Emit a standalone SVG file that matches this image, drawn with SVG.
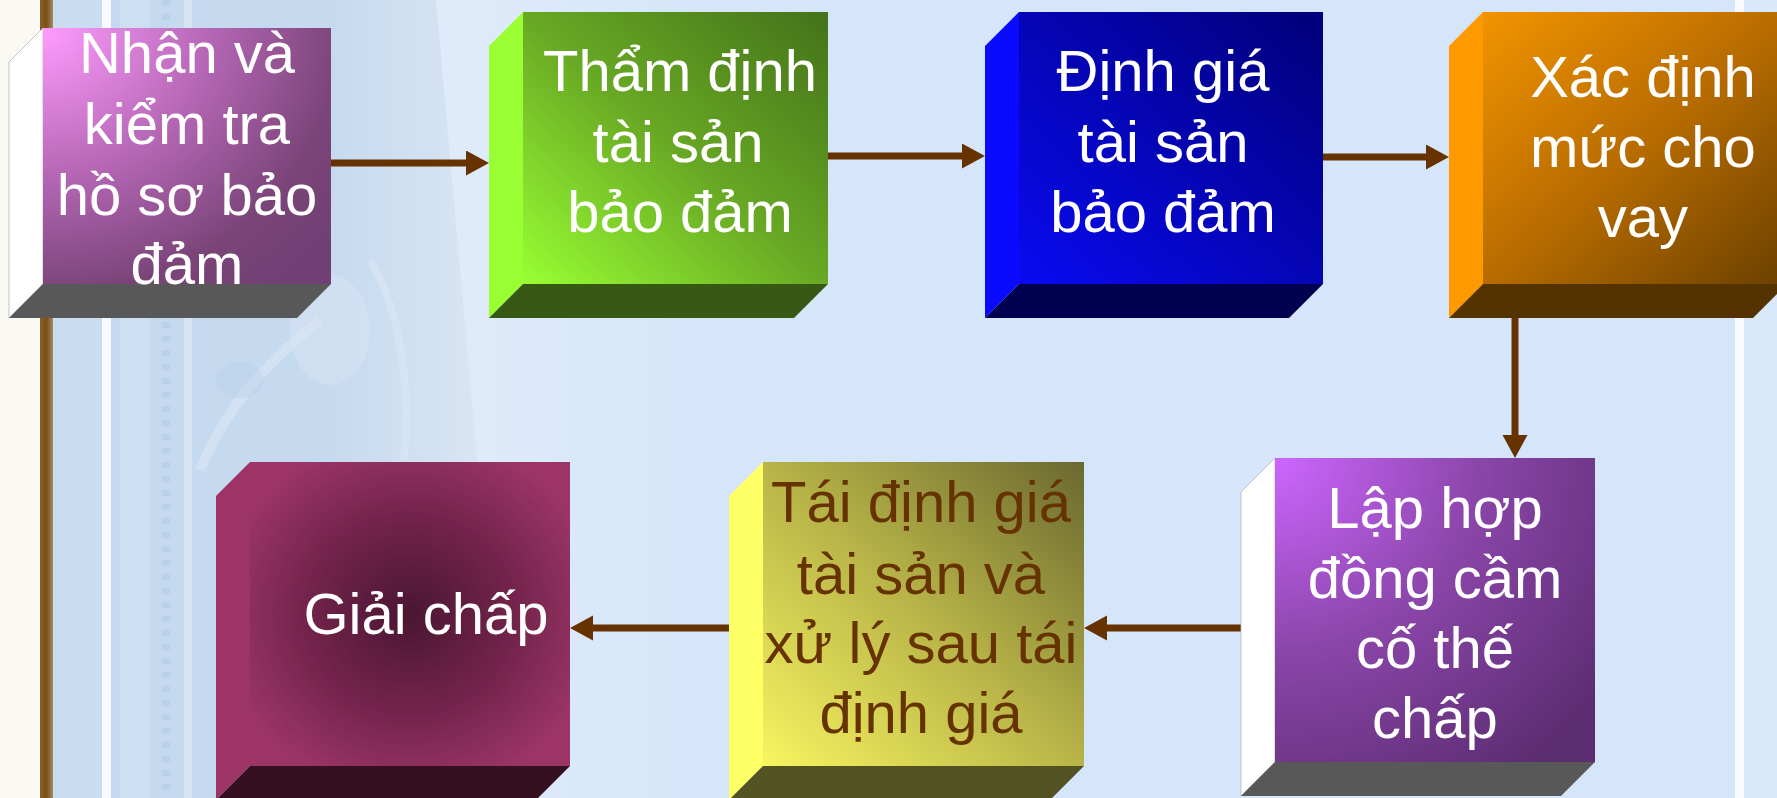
<svg xmlns="http://www.w3.org/2000/svg" width="1777" height="798" viewBox="0 0 1777 798">
<style>
.t{font-family:"Liberation Sans",Arial,sans-serif;font-size:58px;fill:#ffffff;text-anchor:middle}
.tb{fill:#663300}
.c{stroke:#663300;stroke-width:7;fill:none}
.edge{stroke:#b8b8b8;stroke-width:0.8}
</style>
<defs>
<linearGradient id="bgL" x1="0" y1="0" x2="1" y2="0">
<stop offset="0" stop-color="#eef3fa"/><stop offset="1" stop-color="#d5e6fa"/>
</linearGradient>
<linearGradient id="arch" x1="0" y1="0" x2="1" y2="0">
<stop offset="0" stop-color="#c4d9ef"/><stop offset="0.6" stop-color="#c6daef"/><stop offset="1" stop-color="#d8e5f4"/>
</linearGradient>
<linearGradient id="brown" x1="0" y1="0" x2="1" y2="0">
<stop offset="0" stop-color="#8a5e22"/><stop offset="0.5" stop-color="#7a5018"/><stop offset="1" stop-color="#a88a60"/>
</linearGradient>
<radialGradient id="g1" cx="0" cy="0" r="1.3" gradientUnits="objectBoundingBox">
<stop offset="0" stop-color="#ff9cff"/><stop offset="0.45" stop-color="#b466b4"/><stop offset="0.8" stop-color="#7a4478"/><stop offset="1" stop-color="#704074"/>
</radialGradient>
<linearGradient id="g2" x1="0" y1="1" x2="1" y2="0">
<stop offset="0" stop-color="#99ff33"/><stop offset="0.5" stop-color="#68a824"/><stop offset="1" stop-color="#44721a"/>
</linearGradient>
<linearGradient id="g3" x1="0" y1="1" x2="1" y2="0">
<stop offset="0" stop-color="#0a0af2"/><stop offset="1" stop-color="#000078"/>
</linearGradient>
<linearGradient id="g4" x1="0" y1="0" x2="1" y2="1">
<stop offset="0" stop-color="#f29400"/><stop offset="0.5" stop-color="#b86c00"/><stop offset="1" stop-color="#6a4000"/>
</linearGradient>
<radialGradient id="g5" cx="0" cy="0" r="1.3" gradientUnits="objectBoundingBox">
<stop offset="0" stop-color="#cc66ff"/><stop offset="0.5" stop-color="#8a45a8"/><stop offset="1" stop-color="#5a2c70"/>
</radialGradient>
<linearGradient id="g6" x1="0" y1="1" x2="1" y2="0">
<stop offset="0" stop-color="#f8f460"/><stop offset="0.5" stop-color="#b8b448"/><stop offset="1" stop-color="#6a6830"/>
</linearGradient>
<radialGradient id="g7" cx="0.5" cy="0.5" r="0.6">
<stop offset="0" stop-color="#4a1632"/><stop offset="0.55" stop-color="#74244c"/><stop offset="1" stop-color="#9c3566"/>
</radialGradient>
<marker id="ah" markerUnits="userSpaceOnUse" markerWidth="24" markerHeight="26" refX="2" refY="12.5" orient="auto">
<path d="M0,0 L23,12.5 L0,25 z" fill="#663300"/>
</marker>
</defs>

<g id="background">
<rect x="0" y="0" width="1777" height="798" fill="#d5e6fa"/>
<rect x="0" y="0" width="720" height="798" fill="url(#bgL)"/>
<rect x="0" y="0" width="40" height="798" fill="#fbf9f3"/>
<rect x="40" y="0" width="13" height="798" fill="url(#brown)"/>
<rect x="53" y="0" width="49" height="798" fill="#c9dcf0"/>
<rect x="102" y="0" width="9" height="798" fill="#f6f9fd"/>
<polygon points="111,0 436,0 478,470 478,798 111,798" fill="url(#arch)"/>
<rect x="120" y="0" width="30" height="798" fill="#d4e3f3" opacity="0.6"/>
<line x1="166" y1="0" x2="166" y2="798" stroke="#b8cee8" stroke-width="8" stroke-dasharray="6,8" opacity="0.7"/>
<rect x="184" y="0" width="8" height="798" fill="#e2ebf6" opacity="0.6"/>
<path d="M200,470 C230,400 270,360 320,320" stroke="#dce7f4" stroke-width="10" fill="none" opacity="0.6"/>
<ellipse cx="240" cy="380" rx="24" ry="18" fill="#bcd2ea" opacity="0.5"/>
<ellipse cx="330" cy="330" rx="40" ry="55" fill="#d9e5f3" opacity="0.45"/>
<path d="M370,260 C400,310 410,380 404,460" stroke="#dde8f5" stroke-width="8" fill="none" opacity="0.5"/>
<rect x="1735" y="0" width="9" height="798" fill="#f8fbff"/>
<rect x="1744" y="0" width="33" height="798" fill="#d9e8fa"/>
</g>

<g id="connectors">
<line class="c" x1="331" y1="163" x2="468" y2="163" marker-end="url(#ah)"/>
<line class="c" x1="828" y1="156" x2="964" y2="156" marker-end="url(#ah)"/>
<line class="c" x1="1323" y1="157" x2="1428" y2="157" marker-end="url(#ah)"/>
<line class="c" x1="1515" y1="318" x2="1515" y2="437" marker-end="url(#ah)"/>
<line class="c" x1="1241" y1="628" x2="1105" y2="628" marker-end="url(#ah)"/>
<line class="c" x1="729" y1="628" x2="591" y2="628" marker-end="url(#ah)"/>
</g>

<g id="node-nhan">
<polygon points="43,28 9,62 9,318 43,284" fill="#ffffff" class="edge"/>
<polygon points="43,284 331,284 297,318 9,318" fill="#585858"/>
<rect x="43" y="28" width="288" height="256" fill="url(#g1)"/>
<text class="t" x="187" y="73">Nhận và</text>
<text class="t" x="187" y="144">kiểm tra</text>
<text class="t" x="187" y="215">hồ sơ bảo</text>
<text class="t" x="187" y="284">đảm</text>
</g>

<g id="node-thamdinh">
<polygon points="523,12 489,46 489,318 523,284" fill="#99ff33"/>
<polygon points="523,284 828,284 794,318 489,318" fill="#365a14"/>
<rect x="523" y="12" width="305" height="272" fill="url(#g2)"/>
<text class="t" x="680" y="91">Thẩm định</text>
<text class="t" x="678" y="162">tài sản</text>
<text class="t" x="680" y="232">bảo đảm</text>
</g>

<g id="node-dinhgia">
<polygon points="1019,12 985,46 985,318 1019,284" fill="#0a0aff"/>
<polygon points="1019,284 1323,284 1289,318 985,318" fill="#000050"/>
<rect x="1019" y="12" width="304" height="272" fill="url(#g3)"/>
<text class="t" x="1163" y="91">Định giá</text>
<text class="t" x="1163" y="162">tài sản</text>
<text class="t" x="1163" y="232">bảo đảm</text>
</g>

<g id="node-xacdinh">
<polygon points="1483,12 1449,46 1449,318 1483,284" fill="#ff9900"/>
<polygon points="1483,284 1787,284 1753,318 1449,318" fill="#553300"/>
<rect x="1483" y="12" width="304" height="272" fill="url(#g4)"/>
<text class="t" x="1643" y="97">Xác định</text>
<text class="t" x="1643" y="167">mức cho</text>
<text class="t" x="1643" y="237">vay</text>
</g>

<g id="node-laphopdong">
<polygon points="1275,458 1241,492 1241,796 1275,762" fill="#ffffff" class="edge"/>
<polygon points="1275,762 1595,762 1561,796 1241,796" fill="#585858"/>
<rect x="1275" y="458" width="320" height="304" fill="url(#g5)"/>
<text class="t" x="1435" y="528">Lập hợp</text>
<text class="t" x="1435" y="598">đồng cầm</text>
<text class="t" x="1435" y="668">cố thế</text>
<text class="t" x="1435" y="738">chấp</text>
</g>

<g id="node-taidinhgia">
<polygon points="763,462 729,496 729,800 763,766" fill="#ffff66"/>
<polygon points="763,766 1084,766 1050,800 729,800" fill="#525222"/>
<rect x="763" y="462" width="321" height="304" fill="url(#g6)"/>
<text class="t tb" x="921" y="522">Tái định giá</text>
<text class="t tb" x="921" y="594">tài sản và</text>
<text class="t tb" x="921" y="663">xử lý sau tái</text>
<text class="t tb" x="921" y="733">định giá</text>
</g>

<g id="node-giaichap">
<polygon points="250,462 216,496 216,800 250,766" fill="#9c3566"/>
<polygon points="250,766 570,766 536,800 216,800" fill="#351020"/>
<rect x="250" y="462" width="320" height="304" fill="url(#g7)"/>
<text class="t" x="426" y="634">Giải chấp</text>
</g>
</svg>
